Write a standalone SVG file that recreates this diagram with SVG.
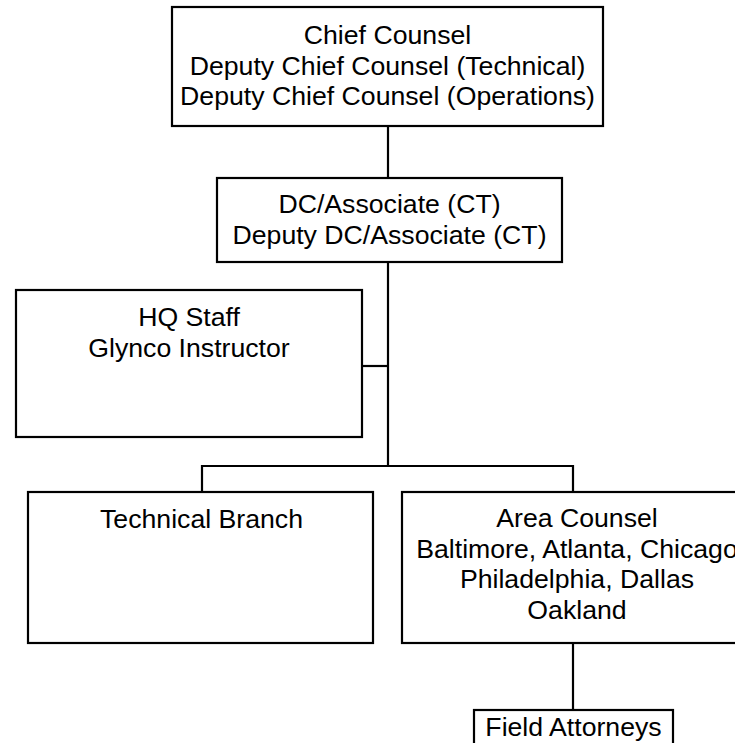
<svg xmlns="http://www.w3.org/2000/svg" width="735" height="743" viewBox="0 0 735 743">
<style>
.box{fill:#fff;stroke:#000;stroke-width:2.2}
.ln{fill:none;stroke:#000;stroke-width:2.2}
text{font-family:"Liberation Sans",Arial,sans-serif;font-size:26.67px;fill:#000;text-anchor:middle}
</style>
<rect width="735" height="743" fill="#fff"/>
<g id="connectors">
<path class="ln" d="M388 126V178"/>
<path class="ln" d="M388 262V466"/>
<path class="ln" d="M362 366H388"/>
<path class="ln" d="M202 492V466H573V492"/>
<path class="ln" d="M573 643V710"/>
</g>
<g id="chief">
<rect class="box" x="172" y="7" width="431" height="119"/>
<text x="387.5" y="44">Chief Counsel</text>
<text x="387.5" y="74.5">Deputy Chief Counsel (Technical)</text>
<text x="387.5" y="105">Deputy Chief Counsel (Operations)</text>
</g>
<g id="dc">
<rect class="box" x="217" y="178" width="345" height="84"/>
<text x="389.5" y="213">DC/Associate (CT)</text>
<text x="389.5" y="243.5">Deputy DC/Associate (CT)</text>
</g>
<g id="hq">
<rect class="box" x="16" y="290" width="346" height="147"/>
<text x="189" y="326">HQ Staff</text>
<text x="189" y="356.5">Glynco Instructor</text>
</g>
<g id="technical">
<rect class="box" x="28" y="492" width="345" height="151"/>
<text x="201.5" y="528">Technical Branch</text>
</g>
<g id="area">
<rect class="box" x="402" y="492" width="345" height="151"/>
<text x="577" y="527">Area Counsel</text>
<text x="577" y="557.5">Baltimore, Atlanta, Chicago</text>
<text x="577" y="588">Philadelphia, Dallas</text>
<text x="577" y="618.5">Oakland</text>
</g>
<g id="field">
<rect class="box" x="474" y="710" width="199" height="60"/>
<text x="573.5" y="736">Field Attorneys</text>
</g>
</svg>
